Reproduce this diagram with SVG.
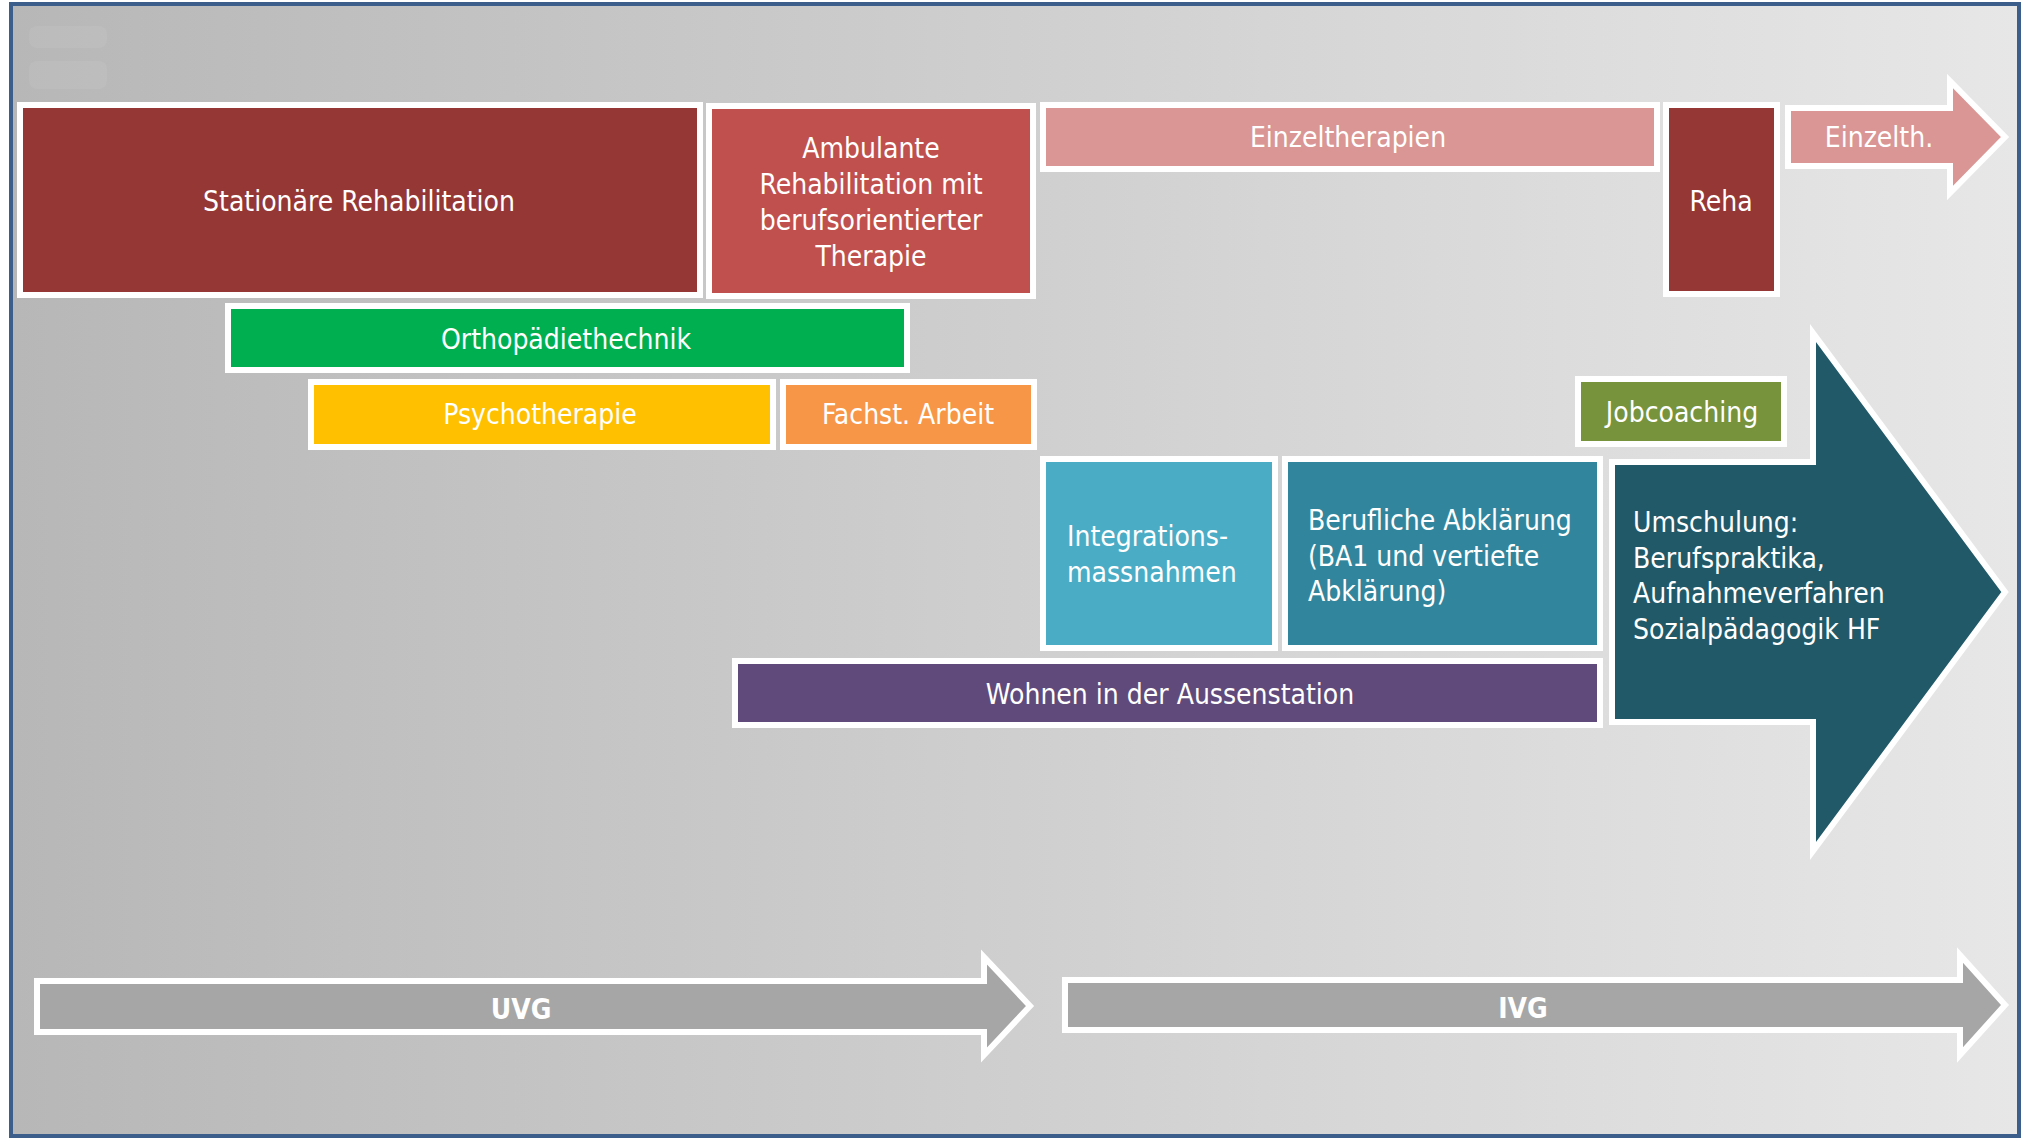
<svg xmlns="http://www.w3.org/2000/svg" width="2030" height="1142" viewBox="0 0 2030 1142">
<defs>
<linearGradient id="bg" x1="0" y1="0" x2="1" y2="0">
<stop offset="0" stop-color="#b7b7b7"/>
<stop offset="1" stop-color="#e7e7e7"/>
</linearGradient>
</defs>
<style>
.box{stroke:#ffffff;stroke-width:6;stroke-linejoin:miter}
.t{font-family:"DejaVu Sans Condensed","DejaVu Sans",sans-serif;font-stretch:condensed;font-size:28px;fill:#ffffff}
.c{text-anchor:middle}
.b{font-weight:bold}
</style>
<rect x="0" y="0" width="2030" height="1142" fill="#ffffff"/>
<rect x="11" y="4" width="2008" height="1132" fill="url(#bg)" stroke="#3b5e8a" stroke-width="4"/>
<rect x="29" y="26" width="78" height="22" rx="8" fill="#ffffff" opacity="0.06"/>
<rect x="29" y="61" width="78" height="28" rx="8" fill="#ffffff" opacity="0.06"/>
<g id="connectors"/>
<g id="stationaere">
<rect class="box" x="20" y="105" width="680" height="190" fill="#953735"/>
<text class="t c" x="359" y="211">Stationäre Rehabilitation</text>
</g>
<g id="ambulante">
<rect class="box" x="709" y="106" width="324" height="190" fill="#c0504d"/>
<text class="t c" x="871" y="158">Ambulante</text>
<text class="t c" x="871" y="194">Rehabilitation mit</text>
<text class="t c" x="871" y="230">berufsorientierter</text>
<text class="t c" x="871" y="266">Therapie</text>
</g>
<g id="orthopaedie">
<rect class="box" x="228" y="306" width="679" height="64" fill="#00b050"/>
<text class="t c" x="566" y="349">Orthopädiethechnik</text>
</g>
<g id="psychotherapie">
<rect class="box" x="311" y="382" width="462" height="65" fill="#ffc000"/>
<text class="t c" x="540" y="424">Psychotherapie</text>
</g>
<g id="fachst">
<rect class="box" x="783" y="382" width="251" height="65" fill="#f79646"/>
<text class="t c" x="908" y="424">Fachst. Arbeit</text>
</g>
<g id="einzeltherapien">
<rect class="box" x="1043" y="105" width="614" height="64" fill="#d99694"/>
<text class="t c" x="1348" y="147">Einzeltherapien</text>
</g>
<g id="reha">
<rect class="box" x="1666" y="105" width="111" height="189" fill="#953735"/>
<text class="t c" x="1721" y="211">Reha</text>
</g>
<g id="einzelth">
<polygon class="box" points="1788,108 1950,108 1950,81 2005,137 1950,193 1950,166 1788,166" fill="#d99694"/>
<text class="t c" x="1879" y="147">Einzelth.</text>
</g>
<g id="jobcoaching">
<rect class="box" x="1578" y="379" width="206" height="65" fill="#77933c"/>
<text class="t c" x="1682" y="422">Jobcoaching</text>
</g>
<g id="integration">
<rect class="box" x="1043" y="459" width="232" height="189" fill="#4bacc6"/>
<text class="t" x="1067" y="546">Integrations-</text>
<text class="t" x="1067" y="582">massnahmen</text>
</g>
<g id="berufliche">
<rect class="box" x="1285" y="459" width="315" height="189" fill="#31859c"/>
<text class="t" x="1308" y="530">Berufliche Abklärung</text>
<text class="t" x="1308" y="566">(BA1 und vertiefte</text>
<text class="t" x="1308" y="601">Abklärung)</text>
</g>
<g id="umschulung">
<polygon class="box" points="1612,462 1813,462 1813,333 2005,592 1813,851 1813,722 1612,722" fill="#215968"/>
<text class="t" x="1633" y="532">Umschulung:</text>
<text class="t" x="1633" y="568">Berufspraktika,</text>
<text class="t" x="1633" y="603">Aufnahmeverfahren</text>
<text class="t" x="1633" y="639">Sozialpädagogik HF</text>
</g>
<g id="wohnen">
<rect class="box" x="735" y="661" width="865" height="64" fill="#604a7b"/>
<text class="t c" x="1170" y="704">Wohnen in der Aussenstation</text>
</g>
<g id="uvg">
<polygon class="box" points="37,981 984,981 984,957 1030,1006 984,1055 984,1032 37,1032" fill="#a6a6a6"/>
<text class="t c b" x="521" y="1019">UVG</text>
</g>
<g id="ivg">
<polygon class="box" points="1065,980 1960,980 1960,955 2005,1005 1960,1055 1960,1030 1065,1030" fill="#a6a6a6"/>
<text class="t c b" x="1523" y="1018">IVG</text>
</g>
</svg>
